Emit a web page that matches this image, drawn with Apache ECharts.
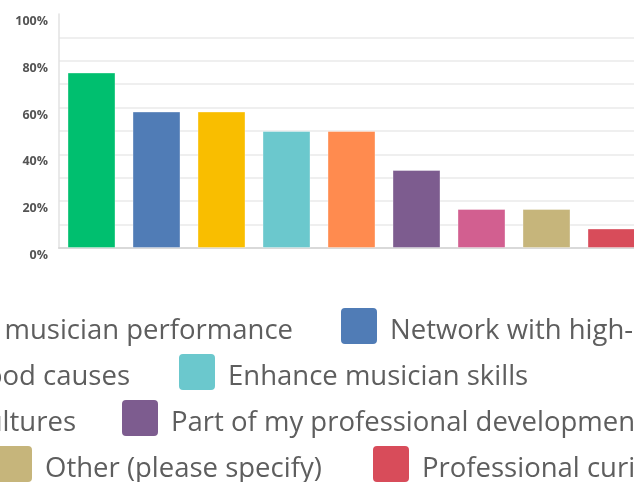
<!DOCTYPE html>
<html>
<head>
<meta charset="utf-8">
<script src="https://cdn.jsdelivr.net/npm/echarts@6/dist/echarts.min.js"></script>
<style>
  html, body { margin: 0; padding: 0; width: 634px; height: 482px; overflow: hidden; background: #ffffff; }
  #chart { position: absolute; left: -200px; top: 0; width: 1000px; height: 482px; }
</style>
</head>
<body>
<div id="chart"></div>
<script>
// Survey answers (share of respondents, %)
const categories = [
  'Attend a musician performance',
  'Network with high-caliber musicians',
  'Support good causes',
  'Enhance musician skills',
  'Learn about other cultures',
  'Part of my professional development',
  'Meet new people',
  'Other (please specify)',
  'Professional curiosity'
];
const percents = [75, 58.33, 58.33, 50, 50, 33.33, 16.67, 16.67, 8.33];
const barColors = ['#00bf6f', '#507cb6', '#f9be00', '#6bc8cd', '#ff8b4f', '#7d5c8f', '#d25f90', '#c6b57b', '#d84c5a'];
const yTickValues = [0, 20, 40, 60, 80, 100];
const yTickLabels = ['0%', '20%', '40%', '60%', '80%', '100%'];

// Legend rows: each entry is placed on its own (left or right anchored, in px of the canvas)
const legendSlots = [
  { right: 507, top: 308 },  // green
  { left: 541, top: 308 },   // blue
  { right: 670, top: 354 },  // yellow
  { left: 379, top: 354 },   // teal
  { right: 724, top: 400 },  // orange
  { left: 322, top: 400 },   // purple
  { left: 900, top: 400 },   // pink
  { left: 196, top: 446 },   // khaki
  { left: 573, top: 446 }    // red
];

// Rounded 36x36 swatch in the upper part of a 36x47 box (the second, zero-area
// sub-path only stretches the box so the label sits a little lower than the swatch)
const swatchIcon = 'path://M4 0H32Q36 0 36 4V32Q36 36 32 36H4Q0 36 0 32V4Q0 0 4 0ZM0 47L36 47Z';

const chart = echarts.init(document.getElementById('chart'), null, { renderer: 'canvas' });

const gridLineColors = [];
for (let v = 0; v <= 100; v += 10) gridLineColors.push(v === 100 ? 'rgba(0,0,0,0)' : '#efefef');

const series = categories.map((name, i) => ({
  type: 'bar',
  name: name,
  data: categories.map((c, j) => (j === i ? percents[i] : null)),
  barWidth: 48,
  barGap: '-100%',
  itemStyle: {
    color: barColors[i],
    borderColor: 'rgba(255,255,255,0.35)',
    borderWidth: 1
  },
  emphasis: { disabled: true }
}));

const legends = categories.map((name, i) => Object.assign({
  data: [name],
  orient: 'horizontal',
  padding: 0,
  itemWidth: 36,
  itemHeight: 47,
  icon: swatchIcon,
  selectedMode: false,
  itemStyle: { borderWidth: 0 },
  textStyle: {
    fontFamily: '"Open Sans", "Noto Sans", sans-serif',
    fontSize: 27.5,
    color: '#5e5e5e',
    padding: [0, 0, 0, 8]
  }
}, legendSlots[i]));

chart.setOption({
  animation: false,
  color: barColors,
  grid: { left: 259, right: 156, top: 14, bottom: 234, containLabel: false },
  legend: legends,
  xAxis: {
    type: 'category',
    data: categories,
    axisLabel: { show: false },
    axisTick: { show: false },
    axisLine: { show: true, lineStyle: { color: '#d9d9d9', width: 2 } },
    splitLine: { show: false }
  },
  yAxis: {
    type: 'value',
    min: 0,
    max: 100,
    interval: 10,
    axisLine: { show: true, lineStyle: { color: '#e2e2e2', width: 1.5 } },
    axisTick: { show: false },
    axisLabel: {
      margin: 11,
      verticalAlign: 'top',
      padding: [1, 0, 0, 0],
      fontFamily: '"Open Sans", sans-serif',
      fontWeight: 'bold',
      fontSize: 12.5,
      color: '#545454',
      formatter: function (v) {
        const k = yTickValues.indexOf(v);
        return k >= 0 ? yTickLabels[k] : '';
      }
    },
    splitLine: { show: true, lineStyle: { color: gridLineColors, width: 2 } }
  },
  series: series
});
</script>
</body>
</html>
